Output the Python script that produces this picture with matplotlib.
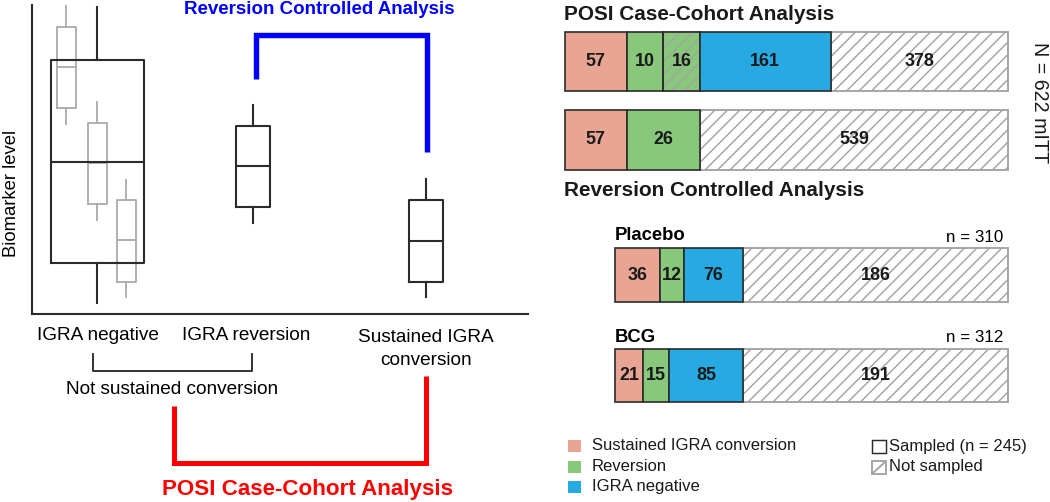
import matplotlib
matplotlib.use("Agg")
import matplotlib.pyplot as plt
from matplotlib.patches import Rectangle
import numpy as np

plt.rcParams['font.family'] = ['Liberation Sans', 'DejaVu Sans']
plt.rcParams['hatch.linewidth'] = 0.7

# schematic biomarker levels (whislo, q1, median, q3, whishi), arbitrary 0-100 scale
pooled_neg = [3.6, 16.5, 49.2, 82.2, 99.4]
sub_boxes = [[61.5, 66.7, 79.9, 92.9, 99.7],
             [30.4, 35.6, 48.9, 61.8, 68.6],
             [5.5, 10.4, 23.9, 36.9, 43.4]]
reversion_box = [29.4, 34.6, 47.9, 60.8, 67.6]
sustained_box = [5.5, 10.4, 23.6, 36.9, 43.7]
group_labels = ["IGRA negative", "IGRA reversion", "Sustained IGRA\nconversion"]

# cohort counts
posi_counts = [57, 10, 16, 161, 378]
posi_kind = ["sus", "rev", "rev", "neg", "none"]
posi_sampled = [True, True, False, True, False]
rca_counts = [57, 26, 539]
rca_kind = ["sus", "rev", "none"]
rca_sampled = [True, True, False]
placebo_counts = [36, 12, 76, 186]
bcg_counts = [21, 15, 85, 191]
arm_kind = ["sus", "rev", "neg", "none"]
arm_sampled = [True, True, True, False]
n_placebo, n_bcg, n_mitt, n_sampled = 310, 312, 622, 245

colors = {"sus": "#E8A594", "rev": "#88C87A", "neg": "#27A9E1", "none": "white"}
dark = "#2b2b2b"
grey = "#A3A3A3"

fig = plt.figure(figsize=(7, 502 / 150), dpi=150)
W, H = 1050, 502

# ---- left: box plot schematic ----
ax = fig.add_axes([32 / W, (H - 314) / H, (528 - 32) / W, (314 - 5) / H])
ax.set_xlim(32, 528)
ax.set_ylim(0, 100)


def stats(v):
    return dict(whislo=v[0], q1=v[1], med=v[2], q3=v[3], whishi=v[4])


gprops = dict(color="#ADADAD", lw=0.9)
ax.bxp([stats(v) for v in sub_boxes], positions=[66, 97, 126], widths=19,
       showfliers=False, showcaps=False, boxprops=gprops, whiskerprops=gprops,
       medianprops=gprops, manage_ticks=False)
kprops = dict(color=dark, lw=1.0)
ax.bxp([stats(pooled_neg), stats(reversion_box), stats(sustained_box)],
       positions=[97, 253, 426], widths=[93, 34, 34],
       showfliers=False, showcaps=False, boxprops=kprops, whiskerprops=kprops,
       medianprops=kprops, manage_ticks=False)
for s in ["top", "right"]:
    ax.spines[s].set_visible(False)
for s in ["left", "bottom"]:
    ax.spines[s].set_color(dark)
    ax.spines[s].set_linewidth(1.0)
ax.set_xticks([])
ax.set_yticks([])
ax.patch.set_alpha(0)

# ---- overlay for annotations and bars (pixel coordinates) ----
ov = fig.add_axes([0, 0, 1, 1])
ov.set_xlim(0, W)
ov.set_ylim(H, 0)
ov.axis("off")
ov.patch.set_alpha(0)

ov.text(12, 193, "Biomarker level", rotation=90, ha="center", va="center", fontsize=8.9)
ov.text(98, 336, group_labels[0], ha="center", va="center", fontsize=9.1)
ov.text(246, 336, group_labels[1], ha="center", va="center", fontsize=9.1)
ov.text(426, 349, group_labels[2], ha="center", va="center", fontsize=9.1, linespacing=1.45)
ov.plot([93, 93, 252, 252], [354, 371, 371, 354], color=dark, lw=0.9)
ov.text(172, 389, "Not sustained conversion", ha="center", va="center", fontsize=9.1)

ov.plot([174, 174, 426, 426], [406, 463, 463, 376], color="#FF0000", lw=2.4,
        solid_joinstyle="miter", solid_capstyle="butt")
ov.text(308, 489, "POSI Case-Cohort Analysis", ha="center", va="center",
        fontsize=10.75, fontweight="bold", color="#FF0000")
ov.plot([256, 256, 427, 427], [79, 35, 35, 152], color="#0000FF", lw=2.6,
        solid_joinstyle="miter", solid_capstyle="butt")
ov.text(319, 10, "Reversion Controlled Analysis", ha="center", va="center",
        fontsize=9.0, fontweight="bold", color="#0000FF")

# ---- right: cohort bars ----
seg_px = {
    "posi": [61.5, 36.5, 37, 130.5, 177.5],
    "rca": [61.5, 73.5, 308],
    "placebo": [44.5, 24.5, 59, 265],
    "bcg": [28, 26, 74, 265],
}


def draw_row(yc, h, x0, widths, counts, kinds, sampled):
    lefts = x0 + np.concatenate([[0], np.cumsum(widths)[:-1]])
    for l, w, c, k, s in zip(lefts, widths, counts, kinds, sampled):
        if not s:
            ov.barh(yc, w, left=l, height=h, color=colors[k], edgecolor=grey,
                    hatch="////", lw=0.9, zorder=2)
    for l, w, c, k, s in zip(lefts, widths, counts, kinds, sampled):
        if s:
            ov.barh(yc, w, left=l, height=h, color=colors[k], edgecolor=dark,
                    lw=0.8, zorder=3)
        elif k != "none":
            ov.barh(yc, w, left=l, height=h, fill=False, edgecolor=dark,
                    lw=0.8, zorder=3)
        ov.text(l + w / 2, yc, str(c), ha="center", va="center", fontsize=8.6,
                fontweight="bold", color="#1a1a1a", zorder=4)


ov.text(564, 14, "POSI Case-Cohort Analysis", ha="left", va="center",
        fontsize=9.95, fontweight="bold", color="#1a1a1a")
draw_row(61.5, 59, 565, seg_px["posi"], posi_counts, posi_kind, posi_sampled)
draw_row(140, 60, 565, seg_px["rca"], rca_counts, rca_kind, rca_sampled)
ov.text(1040, 103, f"N = {n_mitt} mITT", rotation=270, ha="center", va="center",
        fontsize=9.4, color="#1a1a1a")
ov.text(564, 190, "Reversion Controlled Analysis", ha="left", va="center",
        fontsize=9.95, fontweight="bold", color="#1a1a1a")

ov.text(615, 236, "Placebo", ha="left", va="center", fontsize=8.9, fontweight="bold")
ov.text(1003, 237, f"n = {n_placebo}", ha="right", va="center", fontsize=8.2)
draw_row(275, 54, 615, seg_px["placebo"], placebo_counts, arm_kind, arm_sampled)
ov.text(615, 337, "BCG", ha="left", va="center", fontsize=8.9, fontweight="bold")
ov.text(1003, 338, f"n = {n_bcg}", ha="right", va="center", fontsize=8.2)
draw_row(375.5, 53, 615, seg_px["bcg"], bcg_counts, arm_kind, arm_sampled)

# ---- legend ----
leg_items = [("sus", "Sustained IGRA conversion"), ("rev", "Reversion"), ("neg", "IGRA negative")]
for i, (k, lab) in enumerate(leg_items):
    y = 446 + i * 20.5
    ov.add_patch(Rectangle((568, y - 6), 13, 12, facecolor=colors[k], edgecolor="none"))
    ov.text(592, y, lab, ha="left", va="center", fontsize=8.0, color="#1a1a1a")
ov.add_patch(Rectangle((872, 440), 14, 13, facecolor="white", edgecolor=dark, lw=0.7))
ov.text(889, 446, f"Sampled (n = {n_sampled})", ha="left", va="center", fontsize=8.0,
        color="#1a1a1a")
ov.add_patch(Rectangle((872, 461), 14, 13, facecolor="white", edgecolor=grey, lw=0.9))
ov.plot([873, 885], [473, 462], color=grey, lw=0.9)
ov.text(889, 467, "Not sampled", ha="left", va="center", fontsize=8.0, color="#1a1a1a")

fig.savefig("out.png", dpi=150)
